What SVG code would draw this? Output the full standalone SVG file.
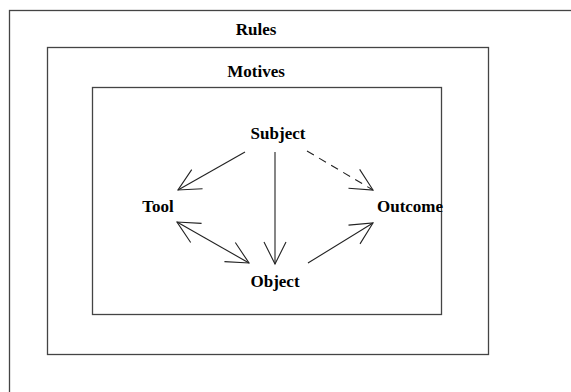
<svg xmlns="http://www.w3.org/2000/svg" width="571" height="392" viewBox="0 0 571 392">
<style>
.box{fill:none;stroke:#444;stroke-width:1.3}
.lbl{font-family:"Liberation Serif",serif;font-weight:bold;font-size:17px;fill:#000;text-anchor:middle}
.ln{fill:none;stroke:#222;stroke-width:1.1}
.dash{stroke-dasharray:8,6}
</style>
<defs>
<marker id="ah" markerUnits="userSpaceOnUse" markerWidth="40" markerHeight="40" viewBox="-30 -20 40 40" refX="0" refY="0" orient="auto-start-reverse" overflow="visible">
<path d="M-22,-11 L0,0 L-22,11" fill="none" stroke="#222" stroke-width="1.1"/>
</marker>
</defs>
<rect width="571" height="392" fill="#fff"/>
<g id="rules"><rect class="box" x="9.5" y="10.5" width="620" height="420"/><text class="lbl" x="256" y="35">Rules</text></g>
<g id="motives"><rect class="box" x="47.5" y="47.5" width="441" height="307"/><text class="lbl" x="256" y="77">Motives</text></g>
<g id="activity"><rect class="box" x="92.5" y="87.5" width="349" height="227"/></g>
<g id="subject"><text class="lbl" x="278" y="139">Subject</text></g>
<g id="tool"><text class="lbl" x="158" y="212">Tool</text></g>
<g id="outcome"><text class="lbl" x="410" y="212">Outcome</text></g>
<g id="object"><text class="lbl" x="275" y="287">Object</text></g>
<g id="connectors">
<line class="ln" x1="245" y1="152" x2="178" y2="190" marker-end="url(#ah)"/>
<line class="ln" x1="275" y1="152" x2="275" y2="264" marker-end="url(#ah)"/>
<line class="ln dash" x1="307" y1="151" x2="373" y2="190" marker-end="url(#ah)"/>
<line class="ln" x1="177" y1="222" x2="249" y2="263" marker-start="url(#ah)" marker-end="url(#ah)"/>
<line class="ln" x1="308" y1="263" x2="373" y2="223" marker-end="url(#ah)"/>
</g>
</svg>
